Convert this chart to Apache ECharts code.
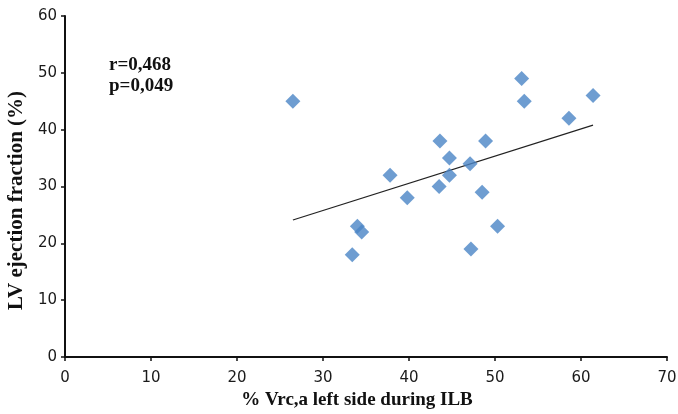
<!DOCTYPE html>
<html>
<head>
<meta charset="utf-8">
<script src="https://cdn.jsdelivr.net/npm/echarts@6/dist/echarts.min.js"></script>
<style>html,body{margin:0;padding:0;background:#fff}#c{width:678px;height:414px}</style>
</head>
<body>
<div id="c"></div>
<script>
// Data
var vrcLeft = [26.5, 33.4, 34.0, 34.5, 37.8, 39.8, 43.5, 43.6, 44.7, 44.7, 47.1, 47.2, 48.5, 48.9, 50.3, 53.1, 53.4, 58.6, 61.4];
var lvef    = [45,   18,   23,   22,   32,   28,   30,   38,   35,   32,   34,   19,   29,   38,   23,   49,   45,   42,   46];
var trendX = [26.5, 61.4];
var trendY = [24.1, 40.8];
var xTicks = [0, 10, 20, 30, 40, 50, 60, 70];
var yTicks = [0, 10, 20, 30, 40, 50, 60];
var statsText = ['r=0,468', 'p=0,049'];
var xTitle = '% Vrc,a left side during ILB';
var yTitle = 'LV ejection fraction (%)';

var points = vrcLeft.map(function (x, i) { return [x, lvef[i]]; });
var trend = trendX.map(function (x, i) { return [x, trendY[i]]; });

var chart = echarts.init(document.getElementById('c'), null, { renderer: 'canvas' });
var tickFont = { fontFamily: 'DejaVu Sans', fontSize: 15, color: '#1a1a1a' };
chart.setOption({
  animation: false,
  backgroundColor: '#fff',
  grid: { left: 65, right: 11, top: 16, bottom: 57, containLabel: false, outerBoundsMode: 'none' },
  xAxis: {
    type: 'value', min: xTicks[0], max: xTicks[xTicks.length - 1], interval: 10,
    splitLine: { show: false },
    axisLine: { lineStyle: { color: '#111', width: 2 } },
    axisTick: { show: true, length: 4, lineStyle: { color: '#111', width: 1.5 } },
    axisLabel: Object.assign({ margin: 14 }, tickFont),
    name: xTitle, nameLocation: 'middle', nameGap: 34,
    nameTextStyle: { fontFamily: 'Liberation Serif', fontWeight: 'bold', fontSize: 19, color: '#111', padding: [0, 18, 0, 0] }
  },
  yAxis: {
    type: 'value', min: yTicks[0], max: yTicks[yTicks.length - 1], interval: 10,
    splitLine: { show: false },
    axisLine: { show: true, lineStyle: { color: '#111', width: 2 } },
    axisTick: { show: true, length: 4, lineStyle: { color: '#111', width: 1.5 } },
    axisLabel: Object.assign({ margin: 8 }, tickFont),
    name: yTitle, nameLocation: 'middle', nameGap: 38,
    nameTextStyle: { fontFamily: 'Liberation Serif', fontWeight: 'bold', fontSize: 21, color: '#111', padding: [0, 28, 0, 0] }
  },
  graphic: [{
    type: 'text', left: 109, top: 55,
    style: { text: statsText.join('\n'), font: 'bold 19px "Liberation Serif"', fill: '#111', lineHeight: 21 }
  }],
  series: [{
    type: 'line', data: trend, symbol: 'none', silent: true,
    lineStyle: { color: '#222', width: 1.2 }, z: 1
  }, {
    type: 'scatter', data: points, symbol: 'diamond', symbolSize: 15,
    itemStyle: { color: '#4a84c6' }, z: 2
  }]
});
</script>
</body>
</html>
